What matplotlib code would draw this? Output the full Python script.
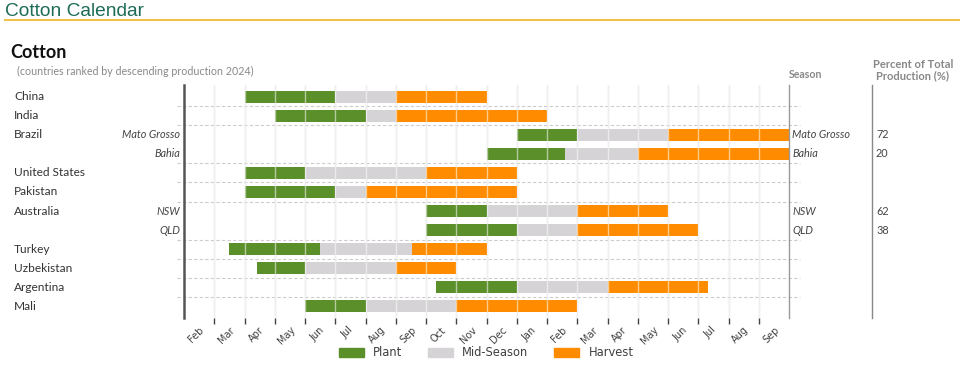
import matplotlib.pyplot as plt
import matplotlib.transforms as mtransforms
from matplotlib.patches import Patch

# months on the axis, x=0 is the start of Feb
months = ["Feb", "Mar", "Apr", "May", "Jun", "Jul", "Aug", "Sep", "Oct", "Nov",
          "Dec", "Jan", "Feb", "Mar", "Apr", "May", "Jun", "Jul", "Aug", "Sep"]

# one row per bar, top to bottom
countries = ["China", "India", "Brazil", "", "United States", "Pakistan",
             "Australia", "", "Turkey", "Uzbekistan", "Argentina", "Mali"]
regions = ["", "", "Mato Grosso", "Bahia", "", "", "NSW", "QLD", "", "", "", ""]
shares = ["", "", "72", "20", "", "", "62", "38", "", "", "", ""]

# phase boundaries in months from start of Feb: plant start, mid start, harvest start, end
plant_start = [2, 3, 11, 10, 2, 2, 8, 8, 1.5, 2.4, 8.33, 4]
mid_start = [5, 6, 13, 12.6, 4, 5, 10, 11, 4.5, 4, 11, 6]
harvest_start = [7, 7, 16, 15, 8, 6, 13, 13, 7.55, 7, 14, 9]
harvest_end = [10, 12, 20, 20, 11, 11, 16, 17, 10, 9, 17.33, 13]

# dashed separators after these rows (between countries)
separators = [0, 1, 3, 4, 5, 7, 8, 9, 10]

green = "#5b8f2a"
grey = "#d5d3d6"
orange = "#ff8c00"
text_col = "#404040"

fig = plt.figure(figsize=(9.6, 3.67), dpi=100)
W, H = 960, 367
ax = fig.add_axes([184 / W, 1 - 318 / H, 605 / W, 233 / H])

rows = list(range(len(countries)))
bar_h = 0.62
ax.barh(rows, [m - p for p, m in zip(plant_start, mid_start)], left=plant_start,
        height=bar_h, color=green, zorder=2)
ax.barh(rows, [h - m for m, h in zip(mid_start, harvest_start)], left=mid_start,
        height=bar_h, color=grey, zorder=2)
ax.barh(rows, [e - h for h, e in zip(harvest_start, harvest_end)], left=harvest_start,
        height=bar_h, color=orange, zorder=2)

# month gridlines, grey below bars and faint white over them
for x in range(1, 20):
    ax.axvline(x, color="#dddddd", lw=1, zorder=0)
    ax.axvline(x, color="white", lw=1, alpha=0.55, zorder=3)

for r in separators:
    ax.plot([-0.23, 20.35], [r + 0.5, r + 0.5], color="#cccccc", lw=0.8,
            ls=(0, (3, 2)), zorder=1, clip_on=False)

ax.set_xlim(0, 20)
ax.set_ylim(11.63, -0.63)
for s in ["top", "bottom"]:
    ax.spines[s].set_visible(False)
ax.spines["left"].set_color("#555555")
ax.spines["left"].set_linewidth(1.8)
ax.spines["right"].set_color("#999999")
ax.spines["right"].set_linewidth(1)
ax.set_yticks([])
# tick marks at month boundaries, labels inside each month
ax.set_xticks(range(1, 20))
ax.set_xticklabels([])
ax.set_xticks([i + 0.4 for i in range(20)], minor=True)
ax.set_xticklabels(months, minor=True, rotation=45, ha="center", fontsize=7,
                   color=text_col)
ax.tick_params(axis="x", which="major", length=4, width=1, color="#444444")
ax.tick_params(axis="x", which="minor", length=0, pad=5)

# row labels
tr = mtransforms.blended_transform_factory(fig.transFigure, ax.transData)
for r in rows:
    if countries[r]:
        ax.text(14 / W, r, countries[r], transform=tr, ha="left", va="center",
                fontsize=8.6, color="#333333", family="Lato")
    if regions[r]:
        ax.text(180 / W, r, regions[r], transform=tr, ha="right", va="center",
                fontsize=7.8, style="italic", color="#444444", family="Lato")
        ax.text(792 / W, r, regions[r], transform=tr, ha="left", va="center",
                fontsize=7.8, style="italic", color="#444444", family="Lato")
    if shares[r]:
        ax.text(876 / W, r, shares[r], transform=tr, ha="left", va="center",
                fontsize=7.8, color="#444444", family="Lato")

# right column separator
fig.add_artist(plt.Line2D([872 / W, 872 / W], [1 - 85 / H, 1 - 318 / H],
                          color="#888888", lw=1))

# headers
fig.text(5 / W, 1 - 11 / H, "Cotton Calendar", fontsize=13.8, color="#1d6b57",
         family="Liberation Sans", va="center")
fig.add_artist(plt.Line2D([5 / W, 1], [1 - 20 / H, 1 - 20 / H], color="#f0c24a", lw=1.5))
fig.text(10 / W, 1 - 52 / H, "Cotton", fontsize=13, weight="bold", color="#111111",
         family="Lato", va="center")
fig.text(17 / W, 1 - 71 / H, "(countries ranked by descending production 2024)",
         fontsize=7.7, color="#888888", family="Lato", va="center")
fig.text(789 / W, 1 - 75 / H, "Season", fontsize=7.6, weight="bold", color="#888888",
         family="Lato", va="center")
fig.text(913 / W, 1 - 70 / H, "Percent of Total\nProduction (%)", fontsize=8,
         weight="bold", color="#888888", family="Lato", va="center", ha="center",
         linespacing=1.1)

handles = [Patch(color=green, label="Plant"), Patch(color=grey, label="Mid-Season"),
           Patch(color=orange, label="Harvest")]
fig.legend(handles=handles, loc="center", bbox_to_anchor=(486 / W, 1 - 353 / H),
           ncol=3, frameon=False, fontsize=8.3, handlelength=2.2, handleheight=0.8,
           columnspacing=2.2, labelcolor=text_col)

fig.savefig("out.png", dpi=100)
